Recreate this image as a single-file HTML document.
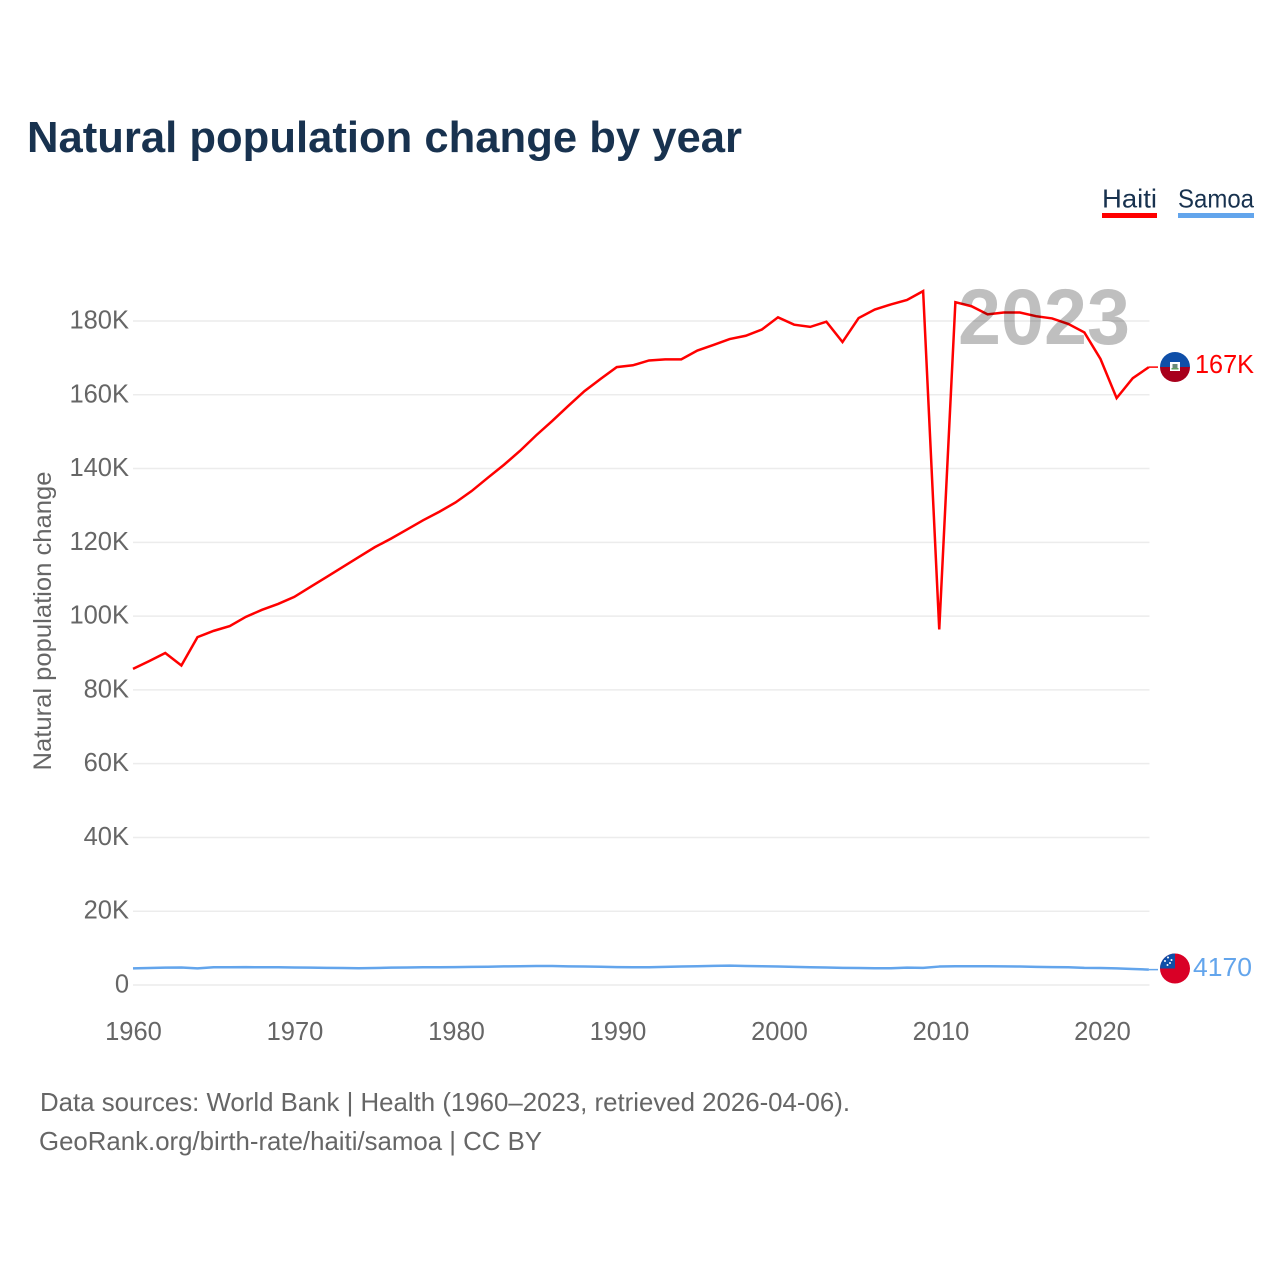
<!DOCTYPE html>
<html lang="en">
<head>
<meta charset="utf-8">
<title>Natural population change by year</title>
<style>
html,body{margin:0;padding:0;background:#fff}
svg{display:block;font-family:"Liberation Sans",sans-serif}
</style>
</head>
<body>
<svg id="chart" width="1280" height="1280" viewBox="0 0 1280 1280" xmlns="http://www.w3.org/2000/svg">
  <defs>
    <clipPath id="flag-clip-a"><circle cx="1175" cy="367" r="15"/></clipPath>
    <clipPath id="flag-clip-b"><circle cx="1175" cy="968.5" r="15"/></clipPath>
  </defs>
  <rect width="1280" height="1280" fill="#fff"/>
  <text x="27" y="152" font-size="44" font-weight="700" fill="#18324f" textLength="715" lengthAdjust="spacingAndGlyphs">Natural population change by year</text>

  <g>
    <g>
      <text x="1102" y="207.5" font-size="26" fill="#18324f" textLength="55" lengthAdjust="spacingAndGlyphs">Haiti</text>
      <rect x="1102" y="213" width="55" height="5" fill="#ff0000"/>
    </g>
    <g>
      <text x="1178" y="207.5" font-size="26" fill="#18324f" textLength="76" lengthAdjust="spacingAndGlyphs">Samoa</text>
      <rect x="1178" y="213" width="76" height="5" fill="#63a5ec"/>
    </g>
  </g>

  <g id="grid"></g>
  <g id="y-ticks"></g>
  <g id="x-ticks"></g>
  <text transform="translate(51,621) rotate(-90)" text-anchor="middle" font-size="25" fill="#666" textLength="299" lengthAdjust="spacingAndGlyphs">Natural population change</text>

  <g id="series"></g>

  <text x="958" y="344" font-size="79" font-weight="700" fill="#bfbfbf" textLength="172" lengthAdjust="spacingAndGlyphs" style="mix-blend-mode:multiply">2023</text>

  <g clip-path="url(#flag-clip-a)">
    <rect x="1160" y="352" width="30" height="15" fill="#0f4fa8"/>
    <rect x="1160" y="367" width="30" height="15" fill="#a8001c"/>
    <rect x="1170" y="362" width="10" height="9" fill="#fff"/>
    <rect x="1172.5" y="364" width="5" height="4" fill="#6b8a7a"/>
    <rect x="1171.5" y="368" width="7" height="1.5" fill="#5f9f5f"/>
  </g>
  <g clip-path="url(#flag-clip-b)">
    <rect x="1160" y="953.5" width="30" height="30" fill="#d90026"/>
    <rect x="1160" y="953.5" width="15" height="15" fill="#0f4fa8"/>
    <circle cx="1168" cy="957.5" r="1" fill="#fff"/>
    <circle cx="1171.5" cy="960" r="1" fill="#fff"/>
    <circle cx="1165" cy="961" r="1" fill="#fff"/>
    <circle cx="1170" cy="963" r="1" fill="#fff"/>
    <circle cx="1167.5" cy="965" r="1" fill="#fff"/>
  </g>
  <text id="label-haiti" x="1195" y="373" font-size="26" fill="#ff0000" textLength="59" lengthAdjust="spacingAndGlyphs"></text>
  <text id="label-samoa" x="1193" y="976" font-size="26" fill="#63a5ec" textLength="59" lengthAdjust="spacingAndGlyphs"></text>

  <g>
    <text x="40" y="1111" font-size="26" fill="#666" textLength="810" lengthAdjust="spacingAndGlyphs">Data sources: World Bank | Health (1960–2023, retrieved 2026-04-06).</text>
    <text x="39" y="1150" font-size="26" fill="#666" textLength="503" lengthAdjust="spacingAndGlyphs">GeoRank.org/birth-rate/haiti/samoa | CC BY</text>
  </g>
</svg>
<script>
var startYear = 1960;
var haitiValues = [85.7,87.8,90,86.6,94.3,96,97.3,99.8,101.7,103.3,105.2,107.9,110.6,113.3,116,118.7,121,123.5,126,128.3,130.8,133.9,137.5,141,144.8,149,152.9,157,161,164.3,167.5,168,169.3,169.6,169.6,172,173.5,175.1,176,177.7,181,179,178.4,179.8,174.3,180.8,183.1,184.5,185.7,188.1,96.4,185.1,184,181.8,182.3,182.3,181.3,180.7,179.2,176.9,169.7,159.1,164.5,167.5];
var samoaValues = [4.5,4.6,4.7,4.75,4.5,4.8,4.8,4.85,4.8,4.8,4.75,4.7,4.65,4.6,4.55,4.6,4.7,4.75,4.8,4.8,4.85,4.9,4.95,5.05,5.1,5.15,5.15,5.05,5,4.95,4.85,4.8,4.8,4.9,5,5.1,5.2,5.25,5.15,5.1,5,4.9,4.8,4.75,4.65,4.6,4.55,4.55,4.7,4.65,5,5.1,5.1,5.1,5.05,5,4.9,4.85,4.8,4.65,4.6,4.5,4.35,4.17];
var yTickValues = [0,20,40,60,80,100,120,140,160,180];
var yTickLabels = ['0','20K','40K','60K','80K','100K','120K','140K','160K','180K'];
var xTickYears = [1960,1970,1980,1990,2000,2010,2020];
var haitiEndLabel = '167K';
var samoaEndLabel = '4170';

var NS = 'http://www.w3.org/2000/svg';
function xScale(year) { return 133 + (year - 1960) * 16.125; }
function xTickScale(year) { return 133.5 + (year - 1960) * (1102.5 - 133.5) / 60; }
function yScale(v) { return 985 - v * (985 - 321) / 180; }

var gridG = document.getElementById('grid');
var yG = document.getElementById('y-ticks');
var xG = document.getElementById('x-ticks');
var seriesG = document.getElementById('series');
var plotRight = xScale(2023);

yTickValues.forEach(function (v, i) {
  var line = document.createElementNS(NS, 'line');
  
  
  line.setAttribute('x1', 133);
  line.setAttribute('x2', 1149.5);
  line.setAttribute('y1', yScale(v));
  line.setAttribute('y2', yScale(v));
  line.setAttribute('stroke', '#ececec');
  line.setAttribute('stroke-width', '1.5');
  gridG.appendChild(line);

  var t = document.createElementNS(NS, 'text');
  
  
  t.setAttribute('x', 129);
  t.setAttribute('y', yScale(v) + 7.5);
  t.setAttribute('text-anchor', 'end');
  t.setAttribute('font-size', '25.5');
  t.setAttribute('fill', '#666');
  t.textContent = yTickLabels[i];
  yG.appendChild(t);
});

xTickYears.forEach(function (yr) {
  var t = document.createElementNS(NS, 'text');
  
  
  t.setAttribute('x', xTickScale(yr));
  t.setAttribute('y', 1040);
  t.setAttribute('text-anchor', 'middle');
  t.setAttribute('font-size', '25.5');
  t.setAttribute('fill', '#666');
  t.textContent = String(yr);
  xG.appendChild(t);
});

function pointsOf(values) {
  return values.map(function (v, i) {
    return xScale(startYear + i).toFixed(2) + ',' + yScale(v).toFixed(2);
  }).join(' ');
}
function lastY(values) { return yScale(values[values.length - 1]); }

var samoaLine = document.createElementNS(NS, 'polyline');


samoaLine.setAttribute('points', pointsOf(samoaValues));
samoaLine.setAttribute('fill', 'none');
samoaLine.setAttribute('stroke', '#63a5ec');
samoaLine.setAttribute('stroke-width', '2.5');
samoaLine.setAttribute('stroke-linejoin', 'round');
seriesG.appendChild(samoaLine);

var haitiLine = document.createElementNS(NS, 'polyline');


haitiLine.setAttribute('points', pointsOf(haitiValues));
haitiLine.setAttribute('fill', 'none');
haitiLine.setAttribute('stroke', '#ff0000');
haitiLine.setAttribute('stroke-width', '2.5');
haitiLine.setAttribute('stroke-linejoin', 'miter');
seriesG.appendChild(haitiLine);

var haitiStub = document.createElementNS(NS, 'line');


haitiStub.setAttribute('x1', plotRight);
haitiStub.setAttribute('x2', 1158);
haitiStub.setAttribute('y1', lastY(haitiValues));
haitiStub.setAttribute('y2', lastY(haitiValues));
haitiStub.setAttribute('stroke', '#ff0000');
haitiStub.setAttribute('stroke-width', '1.5');
seriesG.appendChild(haitiStub);

var samoaStub = document.createElementNS(NS, 'line');


samoaStub.setAttribute('x1', plotRight);
samoaStub.setAttribute('x2', 1158);
samoaStub.setAttribute('y1', lastY(samoaValues));
samoaStub.setAttribute('y2', lastY(samoaValues));
samoaStub.setAttribute('stroke', '#63a5ec');
samoaStub.setAttribute('stroke-width', '1.5');
seriesG.appendChild(samoaStub);

document.getElementById('label-haiti').textContent = haitiEndLabel;
document.getElementById('label-samoa').textContent = samoaEndLabel;
</script>
</body>
</html>
